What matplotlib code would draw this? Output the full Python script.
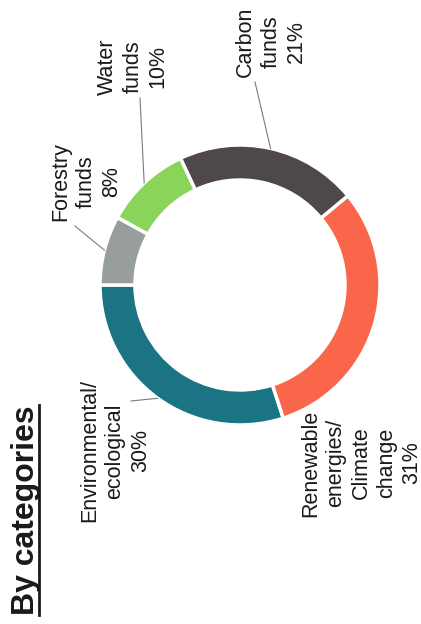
import numpy as np
import matplotlib
matplotlib.use("Agg")
import matplotlib.pyplot as plt

plt.rcParams['font.family'] = ['Liberation Sans', 'DejaVu Sans']

# share of funds by category
categories = ["Environmental/\necological", "Renewable\nenergies/\nClimate\nchange",
              "Carbon\nfunds", "Water\nfunds", "Forestry\nfunds"]
shares = [30, 31, 21, 10, 8]
colors = ["#1b7483", "#f9664a", "#4f484a", "#8bd45a", "#979e9d"]

W, H = 421, 624
center = (240, 285)
radius = 140

# label centres and leader starts, in pixel units (y down)
label_pos = [(115, 451), (361, 463), (271, 42), (133, 67), (86, 182)]
leader_from = [(131, 401), None, (255, 82), (140, 98), (75, 226)]

fig = plt.figure(figsize=(W / 100, H / 100), dpi=100)
ax = fig.add_axes([0, 0, 1, 1])

wedges, _ = ax.pie(shares, colors=colors, startangle=180, counterclock=False,
                   radius=radius, center=center,
                   wedgeprops=dict(width=radius * 0.25, edgecolor="white", linewidth=2.5))
ax.set_xlim(0, W)
ax.set_ylim(H, 0)
ax.set_aspect("equal")
ax.axis("off")

for w, name, share, pos, start in zip(wedges, categories, shares, label_pos, leader_from):
    ax.text(pos[0], pos[1], f"{name}\n{share}%", rotation=90, ha="center", va="center",
            multialignment="center", fontsize=15.5, linespacing=1.27, color="#1a1a1a")
    if start is not None:
        mid = np.deg2rad((w.theta1 + w.theta2) / 2)
        end = (center[0] + radius * np.cos(mid), center[1] + radius * np.sin(mid))
        ax.plot([start[0], end[0]], [start[1], end[1]], color="#7a7a7a", lw=0.8)

title = ax.text(26, 510, "By categories", rotation=90, ha="center", va="center",
                fontsize=23, fontweight="bold", color="#1a1a1a")

# underline the rotated heading
fig.canvas.draw()
bb = title.get_window_extent(fig.canvas.get_renderer())
inv = ax.transData.inverted()
(x0, y0), (x1, y1) = inv.transform([(bb.x1 - 2, bb.y0), (bb.x1 - 2, bb.y1)])
ax.plot([x0, x1], [y0, y1], color="#1a1a1a", lw=2)

fig.savefig("out.png", dpi=100, facecolor="white")
